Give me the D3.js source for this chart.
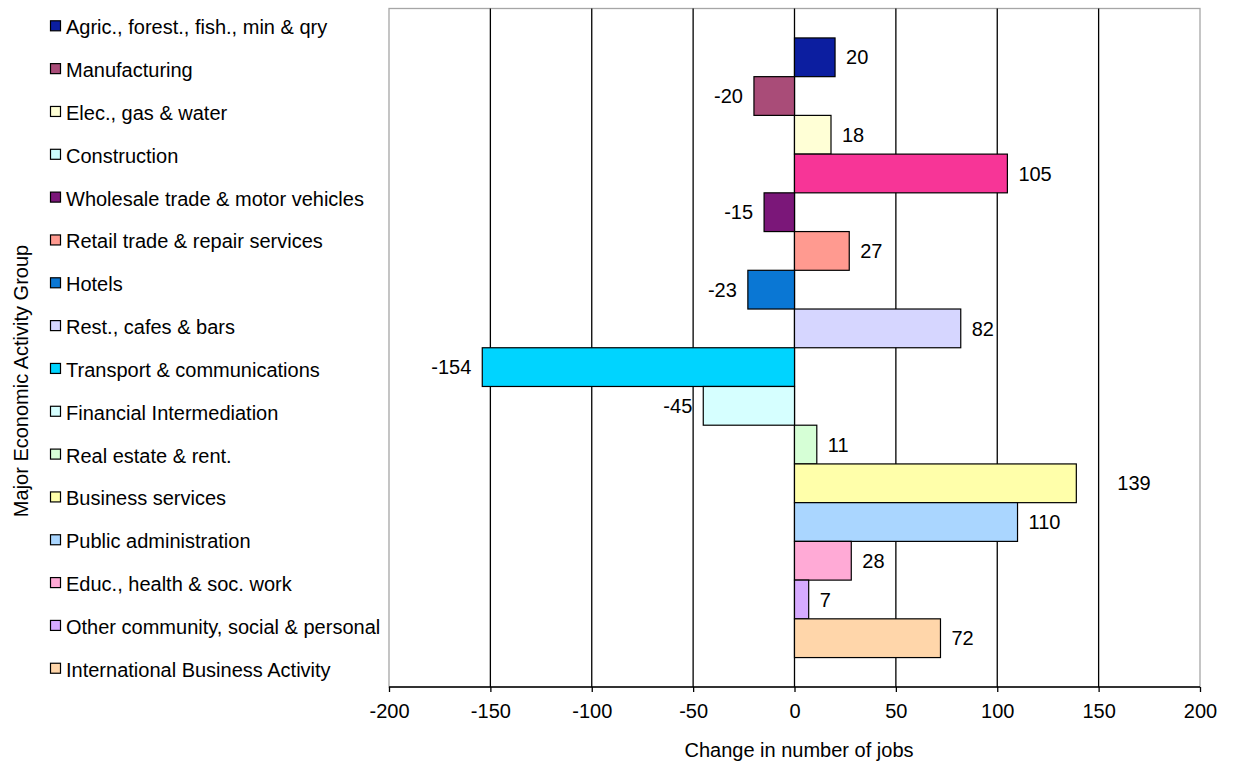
<!DOCTYPE html>
<html>
<head>
<meta charset="utf-8">
<script src="https://cdn.jsdelivr.net/npm/d3@7"></script>
<style>
  html, body { margin: 0; padding: 0; background: #fff; }
  svg { display: block; }
  text { font-family: "Liberation Sans", Arial, sans-serif; fill: #000; }
</style>
</head>
<body>
<svg id="chart" width="1233" height="763"></svg>
<script>
// ---- Data ----
const categories = [
  "Agric., forest., fish., min & qry",
  "Manufacturing",
  "Elec., gas & water",
  "Construction",
  "Wholesale trade & motor vehicles",
  "Retail trade & repair services",
  "Hotels",
  "Rest., cafes & bars",
  "Transport & communications",
  "Financial Intermediation",
  "Real estate & rent.",
  "Business services",
  "Public administration",
  "Educ., health & soc. work",
  "Other community, social & personal",
  "International Business Activity"
];
const values = [20, -20, 18, 105, -15, 27, -23, 82, -154, -45, 11, 139, 110, 28, 7, 72];
const barColors = ["#0c1ea0", "#a94c78", "#ffffd6", "#f73597", "#7b1779", "#ff9a90", "#0a77d4", "#d6d6ff",
                   "#00d4ff", "#d6ffff", "#d6ffd6", "#ffffaa", "#aad6ff", "#ffaad6", "#d6aaff", "#ffd6aa"];
const legendColors = ["#0c1ea0", "#a94c78", "#ffffd6", "#ccffff", "#7b1779", "#ff9a90", "#0a77d4", "#d6d6ff",
                      "#00d4ff", "#d6ffff", "#d6ffd6", "#ffffaa", "#aad6ff", "#ffaad6", "#d6aaff", "#ffd6aa"];
const xTicks = [-200, -150, -100, -50, 0, 50, 100, 150, 200];
const xTitle = "Change in number of jobs";
const yTitle = "Major Economic Activity Group";

// ---- Layout ----
const svg = d3.select("#chart");
const plot = { left: 389, right: 1200, top: 8.5, bottom: 687 };
const FS = 20;

const x = d3.scaleLinear().domain([-200, 200]).range([plot.left, plot.right]);
const y = d3.scaleBand().domain(categories).range([plot.top, plot.bottom]).paddingInner(0).paddingOuter(0.76);

// plot frame (gray)
svg.append("rect")
  .attr("x", plot.left).attr("y", plot.top)
  .attr("width", plot.right - plot.left).attr("height", plot.bottom - plot.top)
  .attr("fill", "none").attr("stroke", "#a6a6a6").attr("stroke-width", 1.3);

// gridlines
svg.append("g").selectAll("line")
  .data(xTicks.filter(t => t > -200 && t < 200))
  .join("line")
  .attr("x1", d => x(d)).attr("x2", d => x(d))
  .attr("y1", plot.top).attr("y2", plot.bottom)
  .attr("stroke", "#000").attr("stroke-width", 1.3);

// bars
svg.append("g").selectAll("rect")
  .data(categories)
  .join("rect")
  .attr("x", (d, i) => x(Math.min(0, values[i])))
  .attr("y", d => y(d))
  .attr("width", (d, i) => Math.abs(x(values[i]) - x(0)))
  .attr("height", y.bandwidth())
  .attr("fill", (d, i) => barColors[i])
  .attr("stroke", "#000").attr("stroke-width", 1.2);

// data labels
const labelShift = { "Business services": 30 };
svg.append("g").selectAll("text")
  .data(categories)
  .join("text")
  .attr("x", (d, i) => values[i] >= 0 ? x(values[i]) + 11 + (labelShift[d] || 0) : x(values[i]) - 11)
  .attr("y", d => y(d) + y.bandwidth() / 2)
  .attr("dy", "0.36em")
  .attr("text-anchor", (d, i) => values[i] >= 0 ? "start" : "end")
  .attr("font-size", FS)
  .text((d, i) => String(values[i]));

// x axis
const xAxis = d3.axisBottom(x).tickValues(xTicks).tickSize(5).tickPadding(12).tickFormat(d => String(d));
const gx = svg.append("g").attr("transform", `translate(0,${plot.bottom})`).call(xAxis);
gx.select(".domain").attr("stroke", "#000").attr("stroke-width", 1.5).attr("d", `M${plot.left},0H${plot.right}`);
gx.selectAll(".tick line").attr("stroke", "#000").attr("stroke-width", 1.3);
gx.selectAll(".tick text").attr("font-size", FS).attr("font-family", "Liberation Sans, Arial, sans-serif").attr("fill", "#000");

// axis titles
svg.append("text")
  .attr("x", 799).attr("y", 757)
  .attr("text-anchor", "middle").attr("font-size", FS)
  .text(xTitle);

svg.append("text")
  .attr("transform", "translate(28,381) rotate(-90)")
  .attr("text-anchor", "middle").attr("font-size", FS)
  .text(yTitle);

// legend
const legendTop = 34.3, legendStep = 42.83;
const lg = svg.append("g");
const items = lg.selectAll("g").data(categories).join("g")
  .attr("transform", (d, i) => `translate(0,${legendTop + i * legendStep})`);
items.append("rect")
  .attr("x", 50.5).attr("y", -13.5).attr("width", 10).attr("height", 10)
  .attr("fill", (d, i) => legendColors[i])
  .attr("stroke", "#000").attr("stroke-width", 1.2);
items.append("text")
  .attr("x", 66).attr("y", 0)
  .attr("font-size", FS)
  .text(d => d);
</script>
</body>
</html>
